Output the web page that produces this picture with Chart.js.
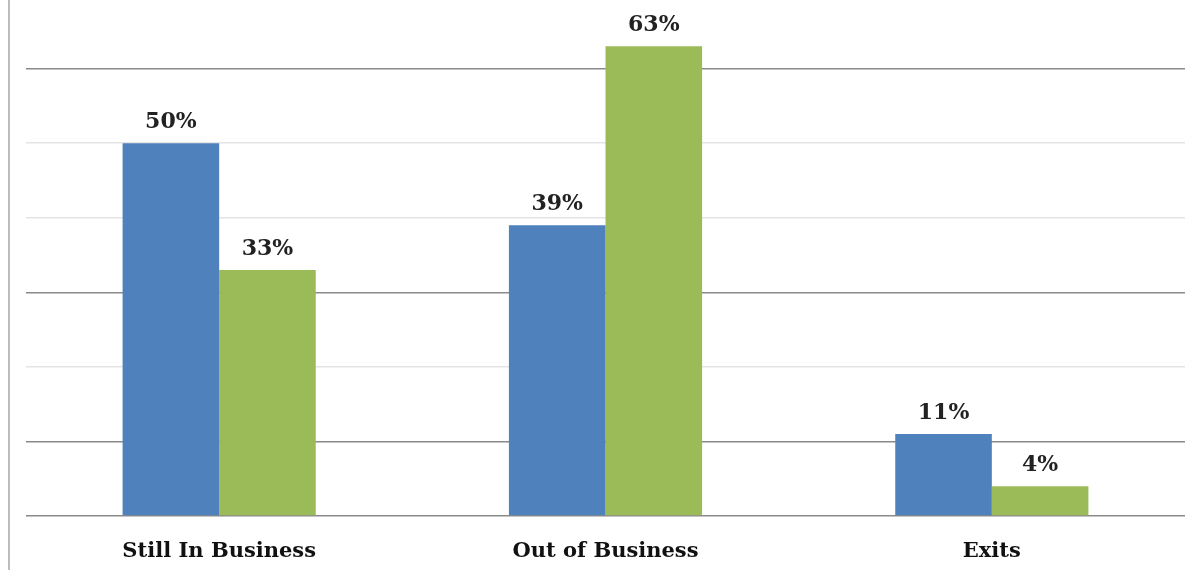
<!DOCTYPE html>
<html lang="en">
<head>
<meta charset="UTF-8">
<title>Business outcomes</title>
<script src="https://cdn.jsdelivr.net/npm/chart.js"></script>
<style>
  html, body { margin: 0; padding: 0; background: #fff; }
  .grafico { position: relative; width: 1187px; height: 570px; }
</style>
</head>
<body>
<div class="grafico">
  <canvas id="barras"></canvas>
</div>
<script>
// dados do grafico
const categorias = ['Still In Business', 'Out of Business', 'Exits'];
const serie1 = [50, 39, 11];
const serie2 = [33, 63, 4];

// rotulos em cima das barras
const rotulos = {
  id: 'rotulos',
  afterDatasetsDraw(chart) {
    const ctx = chart.ctx;
    ctx.save();
    ctx.font = 'bold 22px "DejaVu Serif"';
    ctx.fillStyle = '#222';
    ctx.textAlign = 'center';
    ctx.textBaseline = 'alphabetic';
    chart.data.datasets.forEach(function (ds, i) {
      chart.getDatasetMeta(i).data.forEach(function (bar, j) {
        ctx.fillText(ds.data[j] + '%', bar.x, bar.y - 15);
      });
    });
    ctx.restore();
  }
};

// linha vertical da esquerda
const bordaEsquerda = {
  id: 'bordaEsquerda',
  beforeDraw(chart) {
    const ctx = chart.ctx;
    ctx.save();
    ctx.strokeStyle = '#bdbdbd';
    ctx.lineWidth = 2;
    ctx.beginPath();
    ctx.moveTo(9, 0);
    ctx.lineTo(9, chart.height);
    ctx.stroke();
    ctx.restore();
  }
};

const cores = ['#8a8a8a', '#8a8a8a', '#e4e4e4', '#8a8a8a', '#e4e4e4', '#e4e4e4', '#8a8a8a', 'rgba(0,0,0,0)'];

new Chart(document.getElementById('barras'), {
  type: 'bar',
  data: {
    labels: categorias,
    datasets: [
      { label: 'Serie 1', data: serie1, backgroundColor: '#4F81BD' },
      { label: 'Serie 2', data: serie2, backgroundColor: '#9BBB59' }
    ]
  },
  options: {
    responsive: true,
    maintainAspectRatio: false,
    animation: false,
    layout: { padding: { left: 26, right: 2, top: 0, bottom: 0 } },
    datasets: { bar: { categoryPercentage: 0.5, barPercentage: 1.0 } },
    plugins: { legend: { display: false }, tooltip: { enabled: false } },
    scales: {
      x: {
        grid: { display: false },
        border: { display: false },
        ticks: {
          color: '#111',
          padding: 15,
          font: { family: '"DejaVu Serif"', weight: 'bold', size: 21 }
        },
        afterFit(scale) { scale.height = 54; }
      },
      y: {
        min: 0,
        max: 69.2,
        ticks: { display: false, stepSize: 10 },
        border: { display: false },
        grid: {
          drawTicks: false,
          lineWidth: 1.5,
          color: function (c) { return cores[c.index] || 'rgba(0,0,0,0)'; }
        },
        afterFit(scale) { scale.width = 0; }
      }
    }
  },
  plugins: [rotulos, bordaEsquerda]
});
</script>
</body>
</html>
